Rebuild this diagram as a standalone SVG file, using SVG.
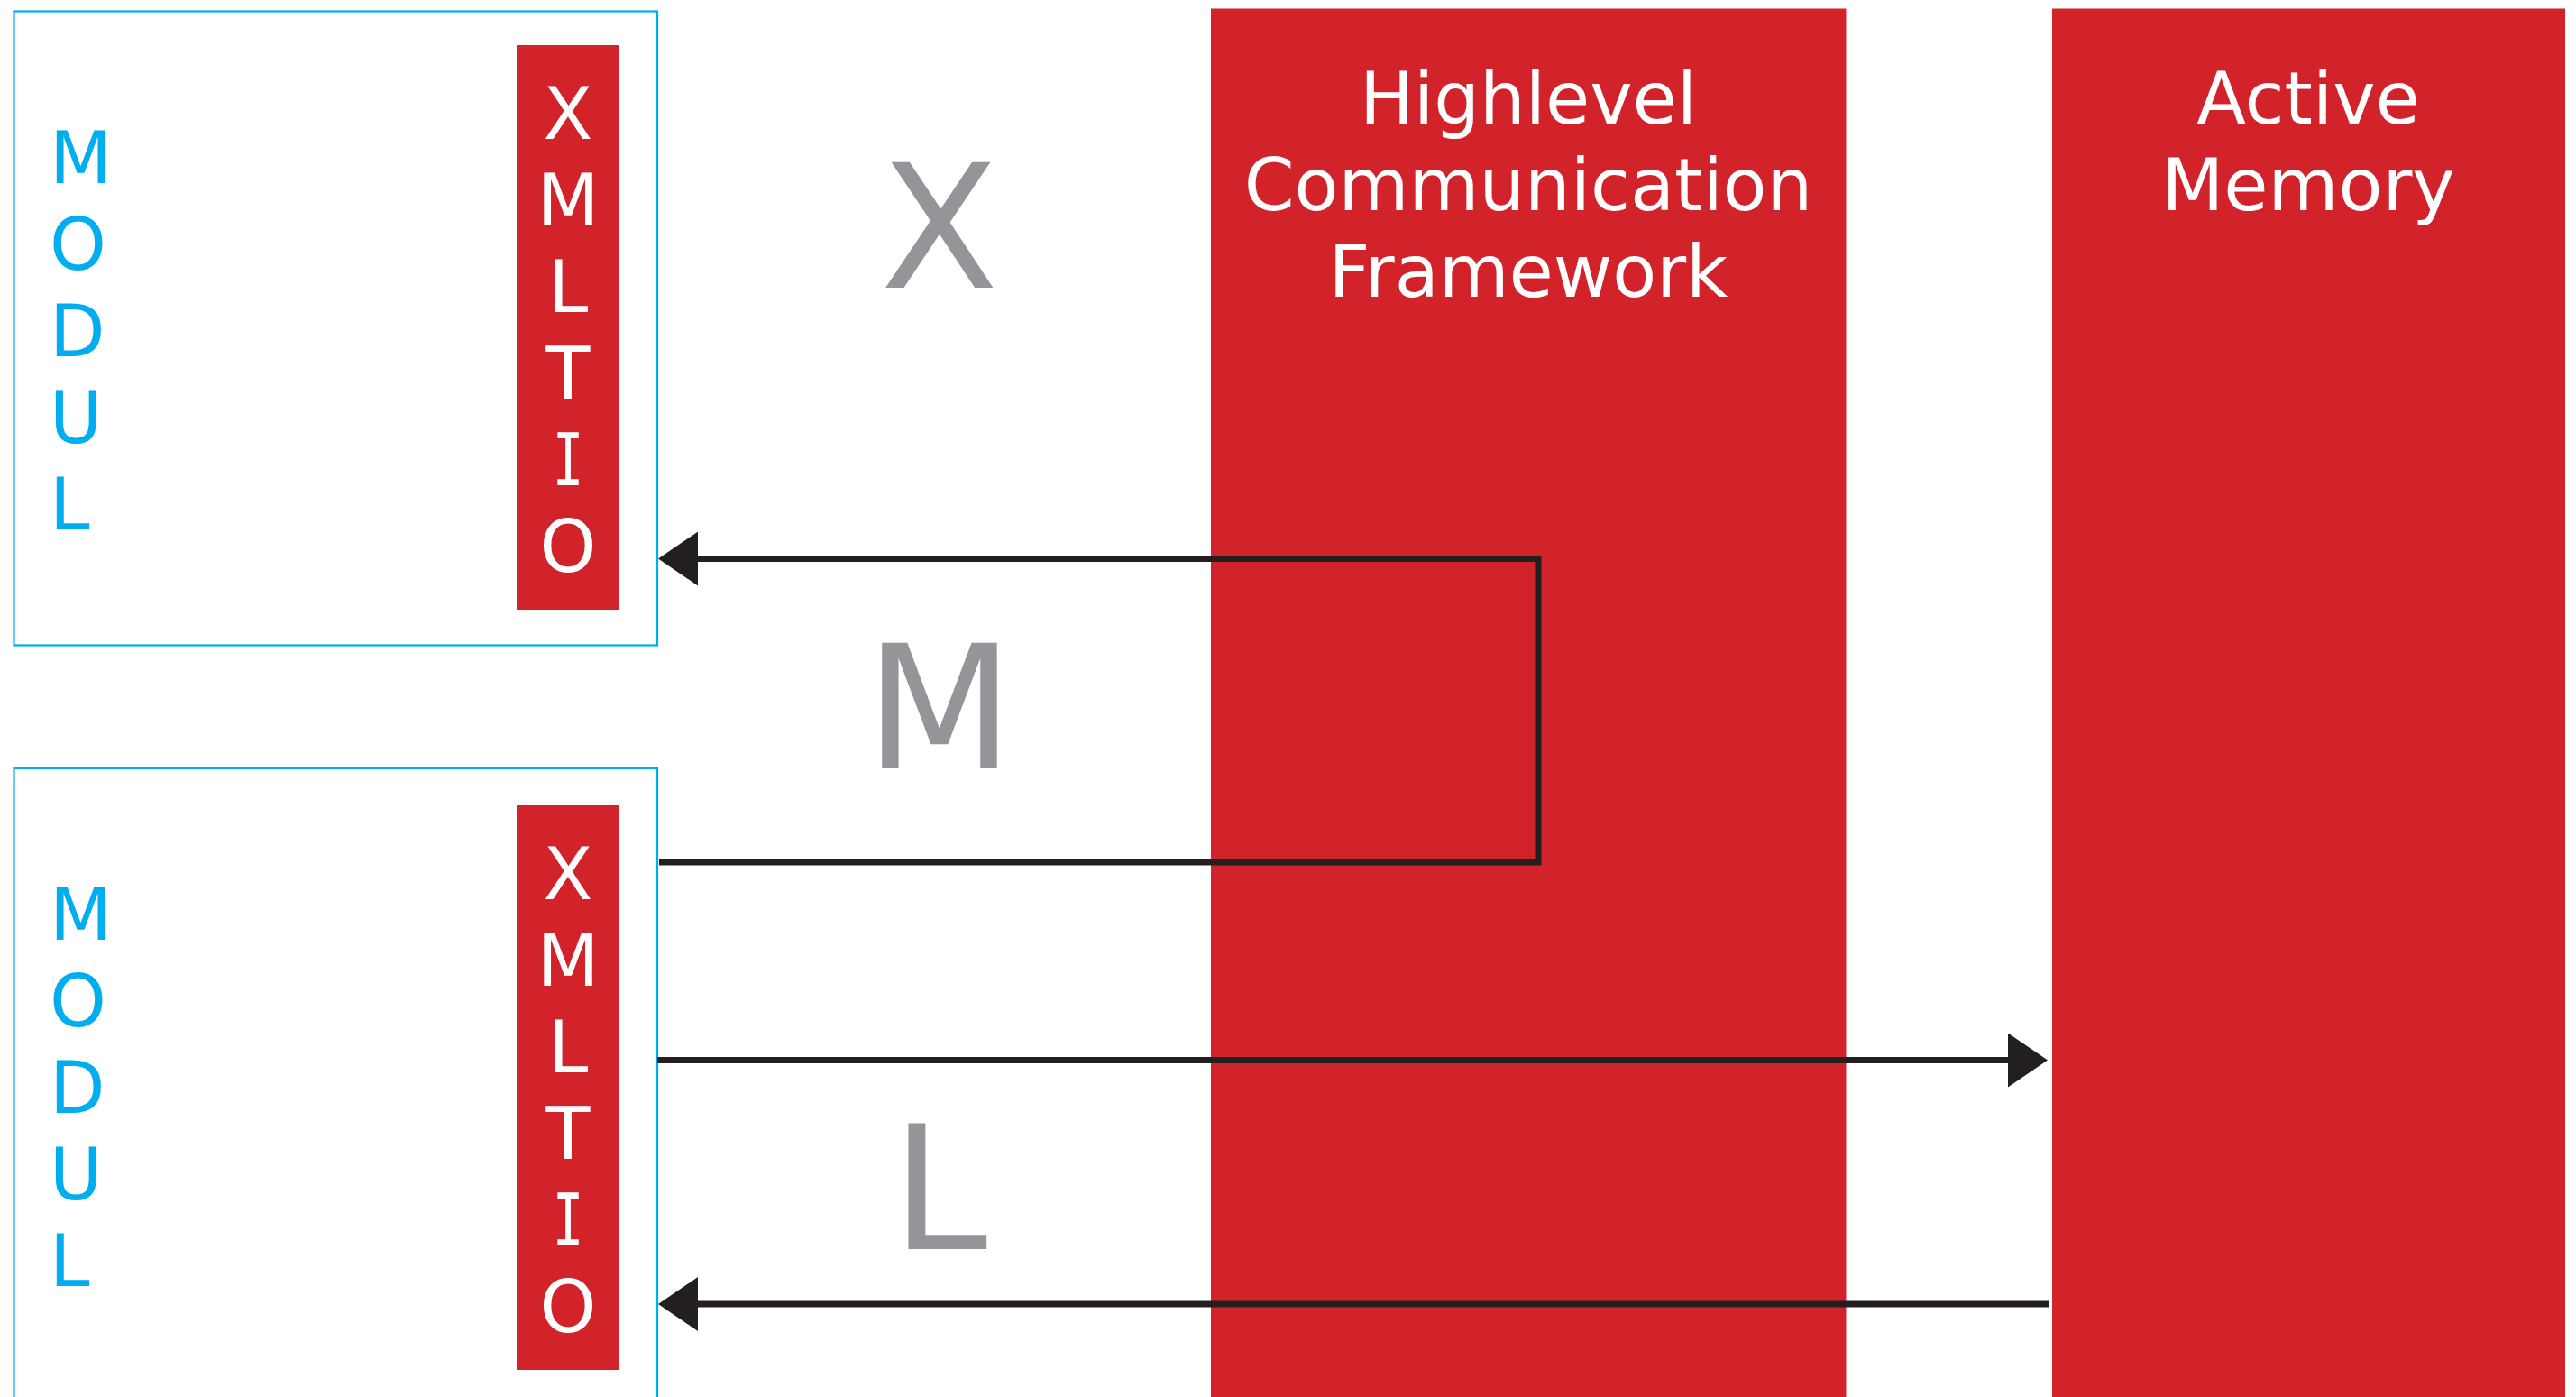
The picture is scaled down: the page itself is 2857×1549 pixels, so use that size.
<svg xmlns="http://www.w3.org/2000/svg" width="2857" height="1549" viewBox="0 0 2857 1549">
  <style>
    .module { fill: #ffffff; stroke: #00aeef; stroke-width: 2.2; }
    .port { fill: #d2232a; }
    .block { fill: #d2232a; }
    .letter { font-family: "DejaVu Sans", Verdana, sans-serif; font-size: 80px; }
    .port-letter { fill: #ffffff; text-anchor: middle; }
    .serif-i { font-family: "DejaVu Sans Mono", monospace; }
    .module-letter { fill: #00aeef; text-anchor: start; }
    .title { font-family: "DejaVu Sans", Verdana, sans-serif; font-size: 80px; fill: #ffffff; text-anchor: middle; }
    .big { font-family: "DejaVu Sans", Verdana, sans-serif; font-size: 191px; fill: #939598; text-anchor: middle; }
    .wire { fill: none; stroke: #231f20; stroke-width: 7; stroke-linejoin: miter; marker-end: url(#head); }
  </style>
  <defs>
    <marker id="head" markerUnits="userSpaceOnUse" viewBox="0 0 44 60" refX="0" refY="30" markerWidth="44" markerHeight="60" orient="auto">
      <path d="M0,0 L44,30 L0,60 Z" fill="#231f20"/>
    </marker>
  </defs>

  <rect width="2857" height="1549" fill="#ffffff"/>

  <!-- middleware columns -->
  <g id="hcf">
    <rect class="block" x="1343" y="9.5" width="704.5" height="1545"/>
    <text class="title" x="1695" y="136.5">Highlevel</text>
    <text class="title" x="1695" y="232.5">Communication</text>
    <text class="title" x="1695" y="328.5">Framework</text>
  </g>
  <g id="active-memory">
    <rect class="block" x="2276" y="9.5" width="569" height="1545"/>
    <text class="title" x="2560" y="136.5">Active</text>
    <text class="title" x="2560" y="232.5">Memory</text>
  </g>

  <!-- upper module with its XMLTIO port -->
  <g id="module-top">
    <rect class="module" x="15.5" y="12.5" width="713.5" height="703"/>
    <g class="letter module-letter">
      <text x="55" y="202.5">M</text>
      <text x="55" y="298.5">O</text>
      <text x="55" y="394.5">D</text>
      <text x="55" y="490.5">U</text>
      <text x="55" y="586.5">L</text>
    </g>
    <rect class="port" x="573" y="50" width="114" height="626"/>
    <g class="letter port-letter">
      <text x="630" y="153.5">X</text>
      <text x="630" y="249.5">M</text>
      <text x="630" y="345.5">L</text>
      <text x="630" y="441.5">T</text>
      <text class="serif-i" transform="translate(630,537.5) scale(0.72,1)">I</text>
      <text x="630" y="633.5">O</text>
    </g>
  </g>

  <!-- lower module with its XMLTIO port (runs off the bottom edge) -->
  <g id="module-bottom">
    <path class="module" d="M15.5,1560 V852 H729 V1560"/>
    <g class="letter module-letter">
      <text x="55" y="1042">M</text>
      <text x="55" y="1138">O</text>
      <text x="55" y="1234">D</text>
      <text x="55" y="1330">U</text>
      <text x="55" y="1426">L</text>
    </g>
    <rect class="port" x="573" y="893" width="114" height="626"/>
    <g class="letter port-letter">
      <text x="630" y="997">X</text>
      <text x="630" y="1093">M</text>
      <text x="630" y="1189">L</text>
      <text x="630" y="1285">T</text>
      <text class="serif-i" transform="translate(630,1381) scale(0.72,1)">I</text>
      <text x="630" y="1477">O</text>
    </g>
  </g>

  <!-- channel letters -->
  <g id="channel-labels">
    <text class="big" x="1042" y="318.5">X</text>
    <text class="big" x="1042" y="851.5">M</text>
    <text class="big" x="1042" y="1385">L</text>
  </g>

  <!-- message flows -->
  <g id="connectors">
    <path class="wire" d="M731,956 H1706 V619.5 H774"/>
    <path class="wire" d="M729,1175.5 H2227"/>
    <path class="wire" d="M2272,1446 H774"/>
  </g>
</svg>
